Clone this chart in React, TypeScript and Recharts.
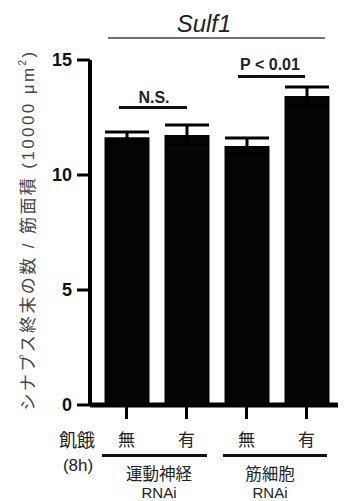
import React from 'react';
import { BarChart, Bar, XAxis, YAxis, ErrorBar, Customized } from 'recharts';

const categories = ['無', '有', '無', '有'];
const means = [11.64, 11.74, 11.26, 13.43];
const errors = [0.23, 0.43, 0.35, 0.4];
const yTicks = [0, 5, 10, 15];
const groupLabels = ['運動神経', '筋細胞'];
const groupSub = 'RNAi';
const title = 'Sulf1';
const yLabel = 'シナプス終末の数 / 筋面積 (10000 μm';
const rowLabel = '飢餓';
const rowSub = '(8h)';
const sigLabels = ['N.S.', 'P < 0.01'];

const data = categories.map((c, i) => ({ id: `c${i}`, label: c, value: means[i], err: errors[i] }));

const FONT = "'Liberation Sans', Arial, 'Noto Sans CJK JP', sans-serif";

const XTick = (props: any) => {
  const { x, y, payload } = props;
  const idx = payload?.index ?? 0;
  return (
    <text x={x} y={y + 19} textAnchor="middle" dominantBaseline="central" fontSize={17} fill="#222" fontFamily={FONT}>
      {categories[idx]}
    </text>
  );
};

const Annotations = () => (
  <g fontFamily={FONT}>
    <text x={204} y={32} textAnchor="middle" fontSize={24} fontStyle="italic" fill="#222">{title}</text>
    <line x1={108} x2={325} y1={38} y2={38} stroke="#444" strokeWidth={1.5} />
    <text x={154} y={103} textAnchor="middle" fontSize={16} fontWeight="bold" fill="#222">{sigLabels[0]}</text>
    <line x1={119} x2={187} y1={107.5} y2={107.5} stroke="#111" strokeWidth={3} />
    <text x={270} y={70} textAnchor="middle" fontSize={16} fontWeight="bold" fill="#222">{sigLabels[1]}</text>
    <line x1={238} x2={305} y1={76.5} y2={76.5} stroke="#111" strokeWidth={3} />
    <text transform="translate(28,230) rotate(-90)" textAnchor="middle" dominantBaseline="central" fontSize={17} letterSpacing={2.4} fill="#444">
      {yLabel}
      <tspan dy={-6} fontSize={10}>2</tspan>
      <tspan dy={6}>)</tspan>
    </text>
    <text x={77} y={441} textAnchor="middle" dominantBaseline="central" fontSize={18} fill="#222">{rowLabel}</text>
    <text x={78} y={465} textAnchor="middle" dominantBaseline="central" fontSize={17} fill="#222">{rowSub}</text>
    <line x1={102} x2={207} y1={455.5} y2={455.5} stroke="#111" strokeWidth={3} />
    <line x1={223} x2={327} y1={455.5} y2={455.5} stroke="#111" strokeWidth={3} />
    <text x={159} y={474} textAnchor="middle" dominantBaseline="central" fontSize={16.5} fill="#222">{groupLabels[0]}</text>
    <text x={159} y={492} textAnchor="middle" dominantBaseline="central" fontSize={15} fill="#222">{groupSub}</text>
    <text x={270} y={474} textAnchor="middle" dominantBaseline="central" fontSize={16.5} fill="#222">{groupLabels[1]}</text>
    <text x={270} y={492} textAnchor="middle" dominantBaseline="central" fontSize={15} fill="#222">{groupSub}</text>
  </g>
);

export default function App() {
  return (
    <div style={{ position: 'absolute', left: 0, top: 0, background: '#fff' }}>
      <BarChart width={344} height={501} data={data} margin={{ top: 60, right: 6, bottom: 0, left: 0 }}>
        <XAxis
          dataKey="id"
          height={96}
          padding={{ left: 6.5, right: 1.5 }}
          axisLine={{ stroke: '#000', strokeWidth: 5 }}
          tickLine={{ stroke: '#000', strokeWidth: 3 }}
          tickSize={14}
          tick={<XTick />}
          interval={0}
        />
        <YAxis
          width={90}
          domain={[0, 15]}
          ticks={yTicks}
          allowDataOverflow
          axisLine={{ stroke: '#000', strokeWidth: 4 }}
          tickLine={{ stroke: '#000', strokeWidth: 3 }}
          tickSize={13}
          tickMargin={5}
          tick={{ fontSize: 18, fontWeight: 'bold', fill: '#111', fontFamily: FONT }}
        />
        <Bar dataKey="value" fill="#050505" barSize={45} isAnimationActive={false}>
          <ErrorBar dataKey="err" width={22} strokeWidth={3} stroke="#000" direction="y" />
        </Bar>
        <Customized component={Annotations} />
      </BarChart>
    </div>
  );
}
